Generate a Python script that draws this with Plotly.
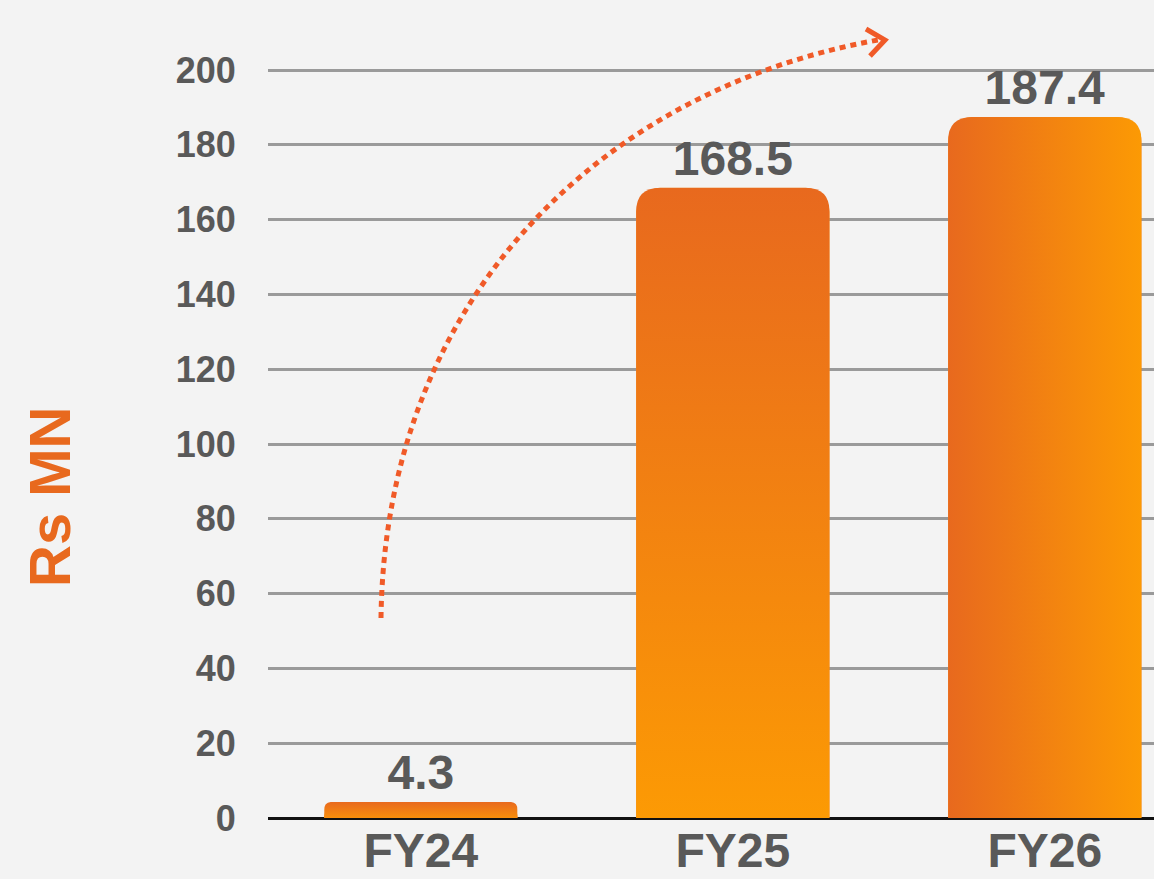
import base64
import plotly.graph_objects as go

# ---- data ----
categories = ["FY24", "FY25", "FY26"]
values = [4.3, 168.5, 187.4]
value_labels = ["4.3", "168.5", "187.4"]
y_tick_vals = [0, 20, 40, 60, 80, 100, 120, 140, 160, 180, 200]
y_tick_text = ["0", "20", "40", "60", "80", "100", "120", "140", "160", "180", "200"]
bar_colors = ["#F07A18", "#F3841A", "#F3841A"]
# gradient styling per bar: (direction, start colour, end colour)
bar_gradients = [("v", "#E8691E", "#F98F0B"),
                 ("v", "#E8691E", "#FC9A04"),
                 ("h", "#E8691E", "#FC9A04")]

# ---- layout constants ----
W, H = 1154, 879
ML, MR, MT, MB = 268, 0, 0, 61
PW, PH = W - ML - MR, H - MT - MB
PX_PER_UNIT = 3.74
BAR_W = 0.62
RADIUS = 24
X_RANGE = [-0.49, 2.35]
GRAY = "#595959"
ORANGE = "#E8691E"
ARROW = "#F05A28"


def px2paper(x, y):
    return (x - ML) / PW, (H - MB - y) / PH


fig = go.Figure()
fig.add_trace(go.Bar(
    x=categories, y=values,
    width=BAR_W,
    marker=dict(color=bar_colors, cornerradius=RADIUS, line=dict(width=0)),
    text=value_labels, textposition="outside", cliponaxis=False,
    textfont=dict(family="Liberation Sans", size=48, color=GRAY, weight="bold"),
    hoverinfo="skip",
))

# gradient skins for the bars, sized from the data through the axes
px_per_cat = PW / (X_RANGE[1] - X_RANGE[0])
images = []
for i, (v, (d, c0, c1)) in enumerate(zip(values, bar_gradients)):
    w = BAR_W * px_per_cat
    h = v * PX_PER_UNIT
    r = min(RADIUS, h / 2, w / 2)
    x2, y2 = ("0", "1") if d == "v" else ("1", "0")
    path = (f"M0,{h:.2f} L0,{r:.2f} Q0,0 {r:.2f},0 L{w - r:.2f},0 Q{w:.2f},0 {w:.2f},{r:.2f} "
            f"L{w:.2f},{h:.2f} Z")
    svg = (
        f'<svg xmlns="http://www.w3.org/2000/svg" width="{w:.2f}" height="{h:.2f}" '
        f'viewBox="0 0 {w:.2f} {h:.2f}" preserveAspectRatio="none">'
        f'<defs><linearGradient id="g" x1="0" y1="0" x2="{x2}" y2="{y2}">'
        f'<stop offset="0" stop-color="{c0}"/><stop offset="1" stop-color="{c1}"/>'
        f'</linearGradient></defs><path d="{path}" fill="url(#g)"/></svg>'
    )
    src = "data:image/svg+xml;base64," + base64.b64encode(svg.encode()).decode()
    images.append(dict(source=src, xref="x", yref="y", x=i - BAR_W / 2, y=v,
                       sizex=BAR_W, sizey=v, xanchor="left", yanchor="top",
                       sizing="stretch", layer="above"))

# dotted growth arrow (decoration)
p0 = px2paper(381, 618)
c1p = px2paper(385, 300)
c2p = px2paper(600, 90)
p3 = px2paper(878, 40)
curve = f"M {p0[0]},{p0[1]} C {c1p[0]},{c1p[1]} {c2p[0]},{c2p[1]} {p3[0]},{p3[1]}"
a1 = px2paper(866, 29)
a2 = px2paper(885, 40)
a3 = px2paper(870, 56)
head = f"M {a1[0]},{a1[1]} L {a2[0]},{a2[1]} L {a3[0]},{a3[1]}"
shapes = [
    dict(type="path", path=curve, xref="paper", yref="paper",
         line=dict(color=ARROW, width=5, dash="6px,5px"), layer="above"),
    dict(type="path", path=head, xref="paper", yref="paper",
         line=dict(color=ARROW, width=5), layer="above"),
]

fig.update_layout(
    width=W, height=H,
    margin=dict(l=ML, r=MR, t=MT, b=MB, autoexpand=False),
    paper_bgcolor="#F3F3F3", plot_bgcolor="rgba(0,0,0,0)",
    showlegend=False,
    shapes=shapes,
    images=images,
    xaxis=dict(
        type="category", range=X_RANGE, automargin=False,
        showgrid=False, zeroline=False, showline=False,
        ticks="",
        tickfont=dict(family="Liberation Sans", size=48, color=GRAY, weight="bold"),
        fixedrange=True,
    ),
    yaxis=dict(
        range=[0, PH / PX_PER_UNIT], automargin=False,
        tickvals=y_tick_vals, ticktext=y_tick_text,
        showgrid=True, gridcolor="#9A9A9A", gridwidth=3,
        zeroline=True, zerolinecolor="#111111", zerolinewidth=3,
        showline=False,
        ticks="outside", ticklen=24, tickcolor="rgba(0,0,0,0)",
        tickfont=dict(family="Liberation Sans", size=36, color=GRAY, weight="bold"),
        fixedrange=True,
    ),
    annotations=[dict(
        text="Rs MN", xref="paper", yref="paper",
        x=px2paper(49, 0)[0], y=px2paper(0, 497)[1],
        xanchor="center", yanchor="middle", textangle=-90, showarrow=False,
        font=dict(family="Liberation Sans", size=58, color=ORANGE, weight="bold"),
    )],
)

fig.write_html(
    "out.html",
    config={"displayModeBar": False, "staticPlot": True},
    post_script="document.body.style.margin='0';document.body.style.background='#F3F3F3';",
)
